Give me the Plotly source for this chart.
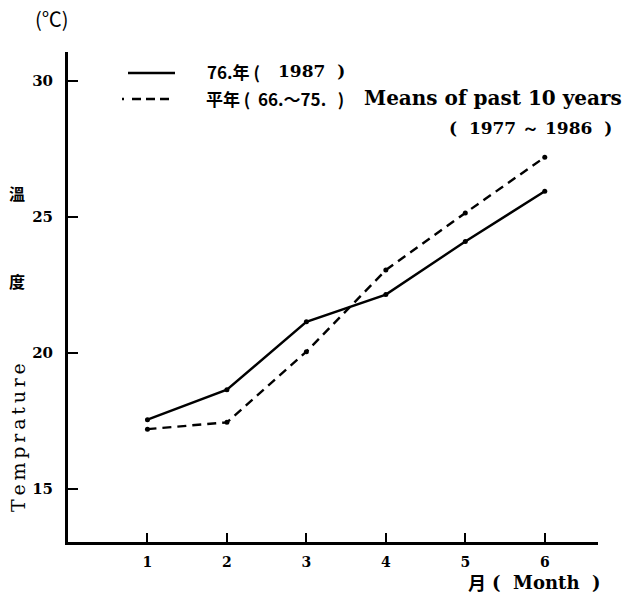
import plotly.graph_objects as go

months = [1, 2, 3, 4, 5, 6]
temp_1987 = [17.55, 18.65, 21.15, 22.15, 24.1, 25.95]
temp_mean = [17.2, 17.45, 20.05, 23.05, 25.15, 27.2]
y_ticks = [15, 20, 25, 30]
x_ticks = [1, 2, 3, 4, 5, 6]

W, H = 629, 595
L, R, T, B = 68, 31, 52, 53
pw, ph = W - L - R, H - T - B

def px(x):
    return (x - L) / pw

def py(y):
    return (H - B - y) / ph

serif = "DejaVu Serif"
cjk = "Noto Sans CJK TC"
NB = "\u00a0"

fig = go.Figure()
fig.add_trace(go.Scatter(x=months, y=temp_1987, mode="lines+markers",
                         line=dict(color="black", width=2.4),
                         marker=dict(color="black", size=5), showlegend=False))
fig.add_trace(go.Scatter(x=months, y=temp_mean, mode="lines+markers",
                         line=dict(color="black", width=2.4, dash="9px,6px"),
                         marker=dict(color="black", size=5), showlegend=False))

fig.update_xaxes(range=[0, 6.67], tickvals=x_ticks, ticks="inside", ticklen=9,
                 tickwidth=1.5, tickcolor="black", showline=True, linecolor="black",
                 linewidth=3, showgrid=False, zeroline=False,
                 tickfont=dict(family=serif, size=14, color="black", weight="bold"),
                 ticklabelstandoff=5)
fig.update_yaxes(range=[13.05, 31.07], tickvals=y_ticks, ticks="inside", ticklen=10,
                 tickwidth=1.5, tickcolor="black", showline=True, linecolor="black",
                 linewidth=3, showgrid=False, zeroline=False,
                 tickfont=dict(family=serif, size=15, color="black", weight="bold"),
                 ticklabelstandoff=9)

ann = []
def text(t, x, y, size, family=serif, xanchor="left", angle=0, weight="bold"):
    ann.append(dict(text=t, x=px(x), y=py(y), xref="paper", yref="paper",
                    xanchor=xanchor, yanchor="middle", showarrow=False,
                    textangle=angle,
                    font=dict(family=family, size=size, color="black", weight=weight)))

text("(℃)", 33, 18, 20, family=cjk, weight="normal")
text("76.年 (", 205, 71, 17, family=cjk, weight="bold")
text("1987" + NB * 2 + ")", 276, 71, 17, weight="bold")
text("平年 (" + NB * 2 + "66.～75." + NB * 3 + ")", 204, 98, 17, family=cjk, weight="bold")
text("Means of past 10 years", 362, 98, 20, weight="bold")
text("(" + NB * 2 + "1977 ～ 1986" + NB * 2 + ")", 447, 128, 17, weight="bold")
text("溫", 17, 193, 16, family=cjk, xanchor="center")
text("度", 17, 281, 16, family=cjk, xanchor="center")
text("T\u2009e\u2009m\u2009p\u2009r\u2009a\u2009t\u2009u\u2009r\u2009e", 18, 437, 19,
     xanchor="center", angle=-90, weight="normal")
text("月", 477, 582, 18, family=cjk, xanchor="center", weight="bold")
text("(" + NB * 2 + "Month" + NB * 2 + ")", 490, 582, 18, weight="bold")

fig.update_layout(
    width=W, height=H, margin=dict(l=L, r=R, t=T, b=B),
    paper_bgcolor="white", plot_bgcolor="white",
    annotations=ann,
    shapes=[
        dict(type="line", xref="paper", yref="paper", x0=px(128), x1=px(175),
             y0=py(73), y1=py(73), line=dict(color="black", width=2.4)),
        dict(type="line", xref="paper", yref="paper", x0=px(122), x1=px(170),
             y0=py(99), y1=py(99), line=dict(color="black", width=2.4, dash="2px,8px,9px,5px,9px,5px,9px")),
    ],
)

fig.write_html("out.html", config={"displayModeBar": False},
               post_script="document.body.style.margin='0';")
